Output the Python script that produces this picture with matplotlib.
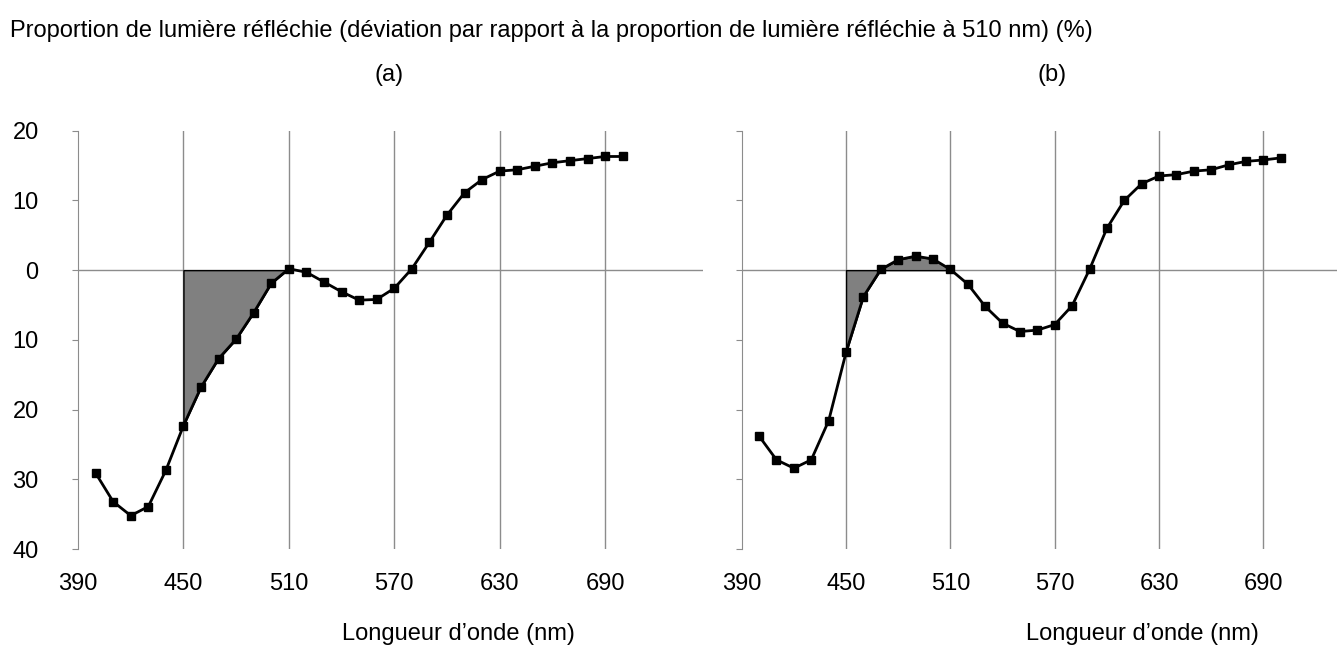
import numpy as np
import matplotlib
matplotlib.use("Agg")
import matplotlib.pyplot as plt

plt.rcParams['font.family'] = ['Liberation Sans', 'DejaVu Sans']

# wavelengths (nm), one point every 10 nm
wavelengths = list(range(400, 710, 10))

# deviation from reflected proportion at 510 nm (%)
reflect_a = [-29.1, -33.2, -35.2, -33.9, -28.7, -22.3, -16.8, -12.7, -9.9, -6.1,
             -1.9, 0.2, -0.3, -1.7, -3.1, -4.3, -4.2, -2.6, 0.2, 4.0,
             7.9, 11.1, 13.0, 14.2, 14.4, 14.9, 15.4, 15.7, 16.0, 16.3, 16.3]
reflect_b = [-23.8, -27.2, -28.4, -27.2, -21.6, -11.8, -3.8, 0.1, 1.5, 2.0,
             1.6, 0.1, -2.0, -5.2, -7.6, -8.8, -8.6, -7.8, -5.1, 0.1,
             6.0, 10.0, 12.4, 13.5, 13.7, 14.2, 14.4, 15.1, 15.6, 15.8, 16.1]

x_ticks = [390, 450, 510, 570, 630, 690]
y_ticks = [-40, -30, -20, -10, 0, 10, 20]
y_labels = ['40', '30', '20', '10', '0', '10', '20']

shade_from, shade_to = 450, 510

grid_col = '#8c8c8c'
fs = 17


def draw_panel(ax, y, xmax, show_ylabels):
    x = np.array(wavelengths)
    y = np.array(y)
    ax.set_xlim(390, xmax)
    ax.set_ylim(-40, 20)
    for gx in x_ticks[1:]:
        ax.axvline(gx, color=grid_col, lw=1, zorder=1)
    ax.axhline(0, color=grid_col, lw=1, zorder=1)

    # shaded area between the curve and zero, 450-510 nm
    m = (x >= shade_from) & (x <= shade_to)
    ax.fill_between(x[m], y[m], 0, facecolor='#808080', edgecolor='black',
                    lw=1, zorder=2)
    ax.plot(x, y, color='black', lw=2, marker='s', ms=5.5, zorder=3)

    for s in ['top', 'right', 'bottom']:
        ax.spines[s].set_visible(False)
    ax.spines['left'].set_color(grid_col)
    ax.spines['left'].set_bounds(-40, 20)
    ax.set_yticks(y_ticks)
    if show_ylabels:
        ax.set_yticklabels(y_labels)
    else:
        ax.set_yticklabels([])
    ax.tick_params(axis='y', length=4.3, color=grid_col, labelsize=fs, pad=24)
    ax.set_xticks(x_ticks)
    ax.set_xticklabels([str(t) for t in x_ticks])
    ax.tick_params(axis='x', length=0, labelsize=fs, pad=17)


fig = plt.figure(figsize=(13.41, 6.46), dpi=100)
ax1 = fig.add_axes([0.0582, 0.150, 0.466, 0.6477])
ax2 = fig.add_axes([0.5531, 0.150, 0.4439, 0.6477])

draw_panel(ax1, reflect_a, 745.7, True)
draw_panel(ax2, reflect_b, 732.3, False)

fig.text(0.0075, 1 - 31 / 646,
         'Proportion de lumière réfléchie (déviation par rapport à la proportion '
         'de lumière réfléchie à 510 nm) (%)',
         fontsize=fs, ha='left', va='center')
fig.text(389 / 1341, 1 - 75 / 646, '(a)', fontsize=fs, ha='center', va='center')
fig.text(1052 / 1341, 1 - 75 / 646, '(b)', fontsize=fs, ha='center', va='center')
fig.text(458 / 1341, 1 - 634 / 646, 'Longueur d’onde (nm)', fontsize=fs,
         ha='center', va='center')
fig.text(1142 / 1341, 1 - 634 / 646, 'Longueur d’onde (nm)', fontsize=fs,
         ha='center', va='center')

fig.savefig('out.png', dpi=100)
